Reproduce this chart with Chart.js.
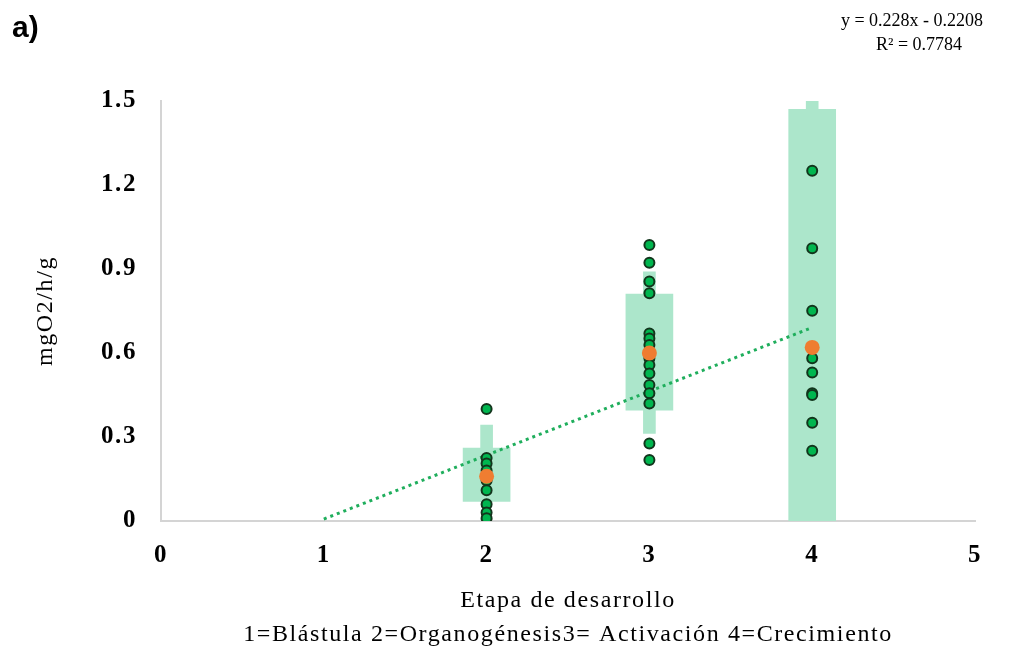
<!DOCTYPE html>
<html>
<head>
<meta charset="utf-8">
<script src="https://cdn.jsdelivr.net/npm/chart.js@4.4.1/dist/chart.umd.min.js"></script>
<style>
html,body{margin:0;padding:0;background:#fff;}
#wrap{width:1033px;height:653px;}
</style>
</head>
<body>
<div id="wrap"><canvas id="c" width="1033" height="653"></canvas></div>
<script>
// ---- data ----
const stages = [2, 3, 4];
const boxLow = [0.07, 0.396, 0];
const boxHigh = [0.26, 0.81, 1.47];
const rangeLow = [0.07, 0.313, 0];
const rangeHigh = [0.343, 0.89, 1.5];
const stage2Values = [0.40, 0.225, 0.205, 0.18, 0.145, 0.11, 0.06, 0.03, 0.01];
const stage3Values = [0.986, 0.922, 0.855, 0.813, 0.67, 0.652, 0.629, 0.581, 0.557, 0.527, 0.486, 0.456, 0.42, 0.277, 0.218];
const stage4Values = [1.251, 0.974, 0.751, 0.581, 0.53, 0.456, 0.45, 0.351, 0.251];
const means = [0.16, 0.60, 0.62];
const trendX = [1, 4];
const trendY = [0.007, 0.691];
const xTicks = [0, 1, 2, 3, 4, 5];
const yTicks = [0, 0.3, 0.6, 0.9, 1.2, 1.5];
const yTitle = 'mgO2/h/g';
const xTitle = ['Etapa de desarrollo', '1=Blástula 2=Organogénesis3= Activación 4=Crecimiento'];
const panelLabel = 'a)';
const eqLine1 = 'y = 0.228x - 0.2208';
const eqLine2 = 'R² = 0.7784';

// ---- build ----
const boxData = stages.map((s, i) => ({x: s, y: [boxLow[i], boxHigh[i]]}));
const rangeData = stages.map((s, i) => ({x: s, y: [rangeLow[i], rangeHigh[i]]}));
const pts = [];
stage2Values.forEach(v => pts.push({x: 2, y: v}));
stage3Values.forEach(v => pts.push({x: 3, y: v}));
stage4Values.forEach(v => pts.push({x: 4, y: v}));
const meanData = stages.map((s, i) => ({x: s, y: means[i]}));
const trendData = trendX.map((x, i) => ({x: x, y: trendY[i]}));

const barColor = '#ace6cb';
const SPACING = '1.6px';

const spacingPlugin = {
  id: 'spacing',
  beforeUpdate(chart) { chart.ctx.letterSpacing = SPACING; },
  beforeLayout(chart) { chart.ctx.letterSpacing = SPACING; },
  beforeDraw(chart) { chart.ctx.letterSpacing = SPACING; }
};

const annot = {
  id: 'annot',
  afterDraw(chart) {
    const c = chart.ctx;
    c.save();
    c.letterSpacing = '0px';
    c.fillStyle = '#000';
    c.textBaseline = 'middle';
    c.textAlign = 'left';
    c.font = 'bold 30px "Liberation Sans", Arial, sans-serif';
    c.fillText(panelLabel, 12, 29);
    c.textAlign = 'center';
    c.font = '18px "Liberation Serif", "Times New Roman", serif';
    c.fillText(eqLine1, 912, 21);
    c.fillText(eqLine2, 919, 45);
    c.restore();
  }
};

new Chart(document.getElementById('c'), {
  type: 'bar',
  data: {
    datasets: [
      {type: 'bar', data: rangeData, backgroundColor: barColor, barThickness: 12, grouped: false, order: 6},
      {type: 'bar', data: boxData, backgroundColor: barColor, barThickness: 47, grouped: false, order: 5},
      {type: 'line', data: trendData, borderColor: '#1fae5c', borderWidth: 3, borderDash: [3, 4], pointRadius: 0, fill: false, order: 4},
      {type: 'scatter', data: pts, backgroundColor: '#00b64f', borderColor: '#12351c', borderWidth: 2, pointRadius: 5, order: 3},
      {type: 'scatter', data: meanData, backgroundColor: '#ef7d31', borderWidth: 0, pointRadius: 7.5, order: 2}
    ]
  },
  options: {
    responsive: false,
    animation: false,
    events: [],
    layout: {padding: {top: 101, right: 58, left: 0, bottom: 0}},
    plugins: {legend: {display: false}, tooltip: {enabled: false}},
    scales: {
      x: {
        type: 'linear', min: 0, max: 5, offset: false,
        grid: {display: false},
        border: {display: true, color: '#d4d4d4', width: 2},
        afterBuildTicks: s => { s.ticks = xTicks.map(v => ({value: v})); },
        afterFit: s => { s.height = 132; },
        ticks: {color: '#000', padding: 12, font: {family: '"Liberation Serif", serif', size: 25, weight: 'bold'}},
        title: {display: true, text: xTitle, color: '#000', padding: {top: 0, bottom: 1},
          font: {family: '"Liberation Serif", serif', size: 24, lineHeight: '34px'}}
      },
      y: {
        type: 'linear', min: 0, max: 1.5,
        grid: {display: false},
        border: {display: true, color: '#d4d4d4', width: 2},
        afterBuildTicks: s => { s.ticks = yTicks.map(v => ({value: v})); },
        afterFit: s => { s.width = 161; },
        ticks: {color: '#000', padding: 16, callback: v => String(v),
          font: {family: '"Liberation Serif", serif', size: 25, weight: 'bold'}},
        title: {display: true, text: yTitle, color: '#000', padding: {top: 31, bottom: 0},
          font: {family: '"Liberation Serif", serif', size: 24}}
      }
    }
  },
  plugins: [spacingPlugin, annot]
});
</script>
</body>
</html>
